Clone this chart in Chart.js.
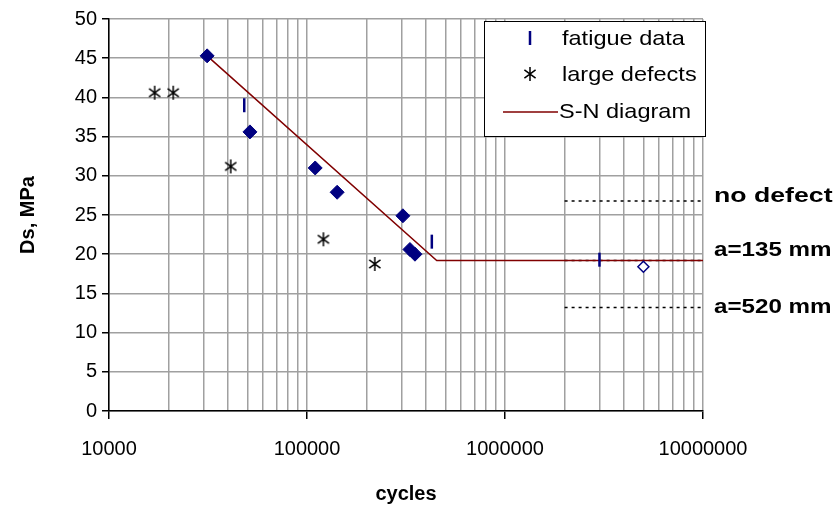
<!DOCTYPE html>
<html>
<head>
<meta charset="utf-8">
<script src="https://cdn.jsdelivr.net/npm/chart.js@4.4.1/dist/chart.umd.min.js"></script>
<style>
  html, body { margin: 0; padding: 0; background: #fff; }
  #wrap { width: 839px; height: 511px; }
</style>
</head>
<body>
<div id="wrap"><canvas id="snChart" width="839" height="511"></canvas></div>
<script>
// axis ticks
const xDecades = [10000, 100000, 1000000, 10000000];
const yTicks = [0, 5, 10, 15, 20, 25, 30, 35, 40, 45, 50];

// fatigue data (filled diamonds)
const fatigueCycles = [31300, 51500, 110000, 142000, 305000, 331000, 351000];
const fatigueStress = [45.3, 35.6, 31.0, 27.9, 24.9, 20.6, 20.0];
// run-out (open diamond)
const runoutCycles = [5000000];
const runoutStress = [18.4];
// fatigue data (bar markers)
const barCycles = [48200, 427000, 3000000];
const barStress = [39.0, 21.6, 19.3];
// large defects
const defectCycles = [17000, 21100, 41200, 121000, 220000];
const defectStress = [40.6, 40.6, 31.2, 21.9, 18.75];
// S-N diagram
const snCycles = [31300, 452000, 10000000];
const snStress = [45.3, 19.2, 19.2];
// fatigue limits
const limitLabels = ['no defect', 'a=135 mm', 'a=520 mm'];
const limitStress = [26.8, 19.2, 13.2];
const limitCycles = [2000000, 10000000];

const FONT = "'Liberation Sans', Arial, sans-serif";
const NAVY = '#000080';
const DARKRED = '#800000';

// grid positions 1..9 x 10^n
const gridCycles = [];
xDecades.forEach((d, i) => {
    if (i === xDecades.length - 1) { gridCycles.push(d); return; }
    for (let m = 1; m < 10; m++) gridCycles.push(d * m);
});
const isDecade = v => xDecades.includes(v);

// asterisk (vertical stroke + X) used as a point style
function makeAsterisk(size) {
    const c = document.createElement('canvas');
    c.width = size; c.height = size;
    const g = c.getContext('2d');
    const h = size / 2, r = size / 2 - 1;
    g.strokeStyle = '#000';
    g.lineWidth = 1.5;
    g.beginPath();
    g.moveTo(h, h - r); g.lineTo(h, h + r);
    g.moveTo(h - r * 0.8, h - r * 0.6); g.lineTo(h + r * 0.8, h + r * 0.6);
    g.moveTo(h - r * 0.8, h + r * 0.6); g.lineTo(h + r * 0.8, h - r * 0.6);
    g.stroke();
    return c;
}
const asterisk = makeAsterisk(16);

const pts = (xs, ys) => xs.map((x, i) => ({ x: x, y: ys[i] }));

function stretchText(ctx, text, x, y, font, sx) {
    ctx.save();
    ctx.font = font;
    ctx.translate(x, y);
    ctx.scale(sx, 1);
    ctx.fillText(text, 0, 0);
    ctx.restore();
}

// legend box and limit labels
const extras = {
    id: 'extras',
    afterDraw(chart) {
        const ctx = chart.ctx;
        const area = chart.chartArea;
        const ys = chart.scales.y;

        // legend
        const lx = area.right - 219, ly = area.top + 2, lw = 221, lh = 115;
        ctx.save();
        ctx.fillStyle = '#fff';
        ctx.fillRect(lx, ly, lw, lh);
        ctx.strokeStyle = '#000';
        ctx.lineWidth = 1;
        ctx.strokeRect(lx + 0.5, ly + 0.5, lw, lh);

        const mx = lx + 46;
        ctx.strokeStyle = NAVY;
        ctx.lineWidth = 2.5;
        ctx.beginPath();
        ctx.moveTo(mx, ly + 10); ctx.lineTo(mx, ly + 24);
        ctx.stroke();
        ctx.drawImage(asterisk, mx - 8, ly + 45);
        ctx.strokeStyle = DARKRED;
        ctx.lineWidth = 1.5;
        ctx.beginPath();
        ctx.moveTo(lx + 19, ly + 91); ctx.lineTo(lx + 74, ly + 91);
        ctx.stroke();

        ctx.fillStyle = '#000';
        ctx.textBaseline = 'alphabetic';
        const lf = '21px ' + FONT;
        stretchText(ctx, 'fatigue data', lx + 78, ly + 24, lf, 1.12);
        stretchText(ctx, 'large defects', lx + 78, ly + 60, lf, 1.12);
        stretchText(ctx, 'S-N diagram', lx + 75, ly + 97, lf, 1.12);

        // labels of the fatigue limits
        const offs = [1, -4, 5];
        const sx = [1.27, 1.15, 1.15];
        const bf = 'bold 21px ' + FONT;
        limitLabels.forEach((t, i) => {
            const y = ys.getPixelForValue(limitStress[i]) + offs[i];
            stretchText(ctx, t, area.right + 11, y, bf, sx[i]);
        });
        ctx.restore();
    }
};

const datasets = [
    {
        label: 'fatigue data',
        data: pts(barCycles, barStress),
        pointStyle: 'line', rotation: 90, pointRadius: 7,
        borderColor: NAVY, borderWidth: 2.5, order: 1
    },
    {
        label: 'fatigue',
        data: pts(fatigueCycles, fatigueStress),
        pointStyle: 'rectRot', pointRadius: 7,
        backgroundColor: NAVY, borderColor: NAVY, borderWidth: 1, order: 2
    },
    {
        label: 'run-out',
        data: pts(runoutCycles, runoutStress),
        pointStyle: 'rectRot', pointRadius: 5.5,
        backgroundColor: '#fff', borderColor: NAVY, borderWidth: 1.5, order: 0
    },
    {
        label: 'large defects',
        data: pts(defectCycles, defectStress),
        pointStyle: asterisk, order: 3
    },
    {
        label: 'S-N diagram',
        data: pts(snCycles, snStress),
        showLine: true, pointRadius: 0,
        borderColor: DARKRED, borderWidth: 1.5, order: 4
    }
];
limitStress.forEach((s, i) => {
    datasets.push({
        label: limitLabels[i],
        data: pts(limitCycles, limitCycles.map(() => s)),
        showLine: true, pointRadius: 0,
        borderColor: '#000', borderWidth: 1.5, borderDash: [3, 4], order: 10
    });
});

new Chart(document.getElementById('snChart'), {
    type: 'scatter',
    data: { datasets: datasets },
    options: {
        responsive: false,
        animation: false,
        layout: { padding: { left: 0, right: 136, top: 19, bottom: 0 } },
        plugins: { legend: { display: false }, tooltip: { enabled: false } },
        scales: {
            x: {
                type: 'logarithmic',
                min: xDecades[0],
                max: xDecades[xDecades.length - 1],
                afterBuildTicks: s => { s.ticks = gridCycles.map(v => ({ value: v })); },
                afterFit: s => { s.height = 100; },
                grid: {
                    color: '#a0a0a0', lineWidth: 1.5, tickLength: 8,
                    tickColor: c => (c.tick && isDecade(c.tick.value)) ? '#000' : 'rgba(0,0,0,0)'
                },
                border: { color: '#000', width: 1.5 },
                ticks: {
                    autoSkip: false, maxRotation: 0, color: '#000', padding: 18,
                    font: { family: FONT, size: 20 },
                    callback: v => isDecade(v) ? String(v) : ''
                },
                title: {
                    display: true, text: 'cycles', color: '#000',
                    font: { family: FONT, size: 20, weight: 'bold' },
                    padding: { top: 0, bottom: 5 }
                }
            },
            y: {
                min: 0, max: 50,
                afterBuildTicks: s => { s.ticks = yTicks.map(v => ({ value: v })); },
                afterFit: s => { s.width = 109; },
                grid: { color: '#a0a0a0', lineWidth: 1.5, tickLength: 7, tickColor: '#000' },
                border: { color: '#000', width: 1.5 },
                ticks: {
                    color: '#000', padding: 5,
                    font: { family: FONT, size: 20 }
                },
                title: {
                    display: true, text: 'Ds, MPa', color: '#000',
                    font: { family: FONT, size: 20, weight: 'bold' },
                    padding: { top: 16, bottom: 0 }
                }
            }
        }
    },
    plugins: [extras]
});
</script>
</body>
</html>
